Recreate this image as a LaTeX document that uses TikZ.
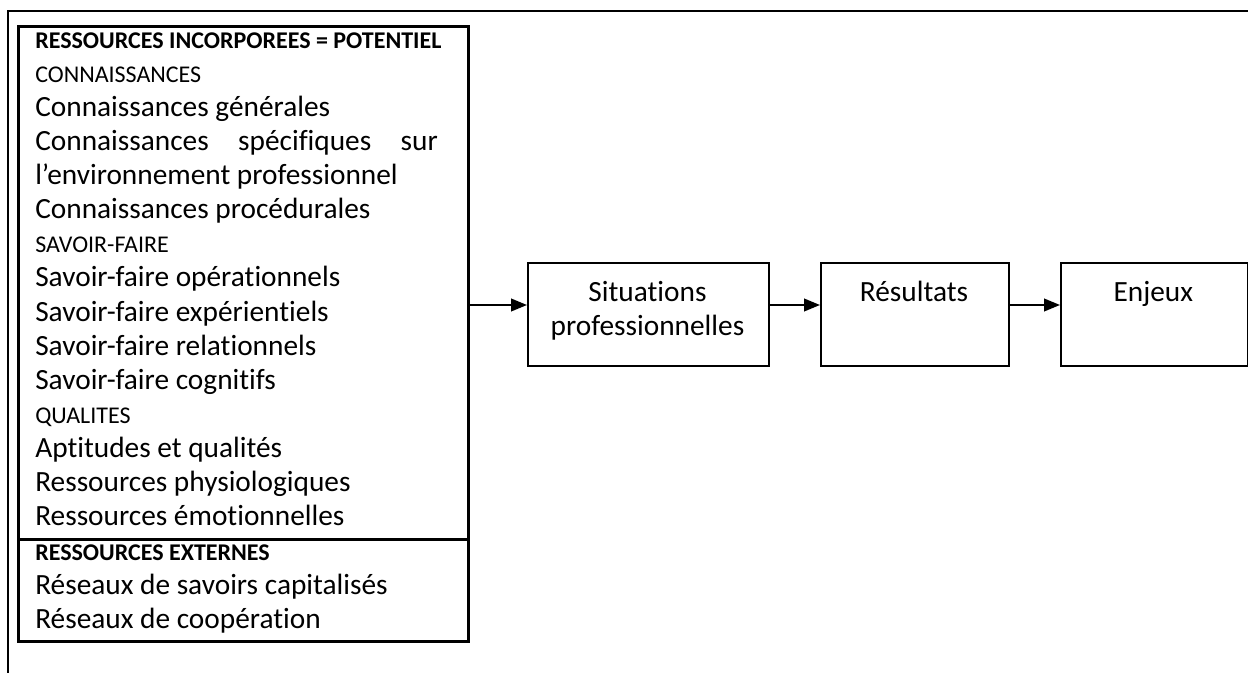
\documentclass[tikz,border=0pt]{standalone}
\usepackage{fontspec}
\setmainfont{Carlito}[Ligatures={NoCommon}]
\usetikzlibrary{arrows.meta}
\usetikzlibrary{positioning}

\newcommand{\grandcorps}{\fontsize{22}{26}\selectfont}
\newcommand{\petitcorps}{\fontsize{18}{22}\selectfont}

\tikzset{
  cadre/.style={draw, line width=1.3pt, inner sep=0pt, anchor=north west},
  titre/.style={anchor=base west, inner sep=0pt, font=\petitcorps\bfseries},
  rubrique/.style={anchor=base west, inner sep=0pt, font=\petitcorps},
  ligne/.style={anchor=base west, inner sep=0pt, font=\grandcorps},
  etiquette/.style={anchor=base, inner sep=0pt, font=\grandcorps},
  fleche/.style={->, line width=1.5pt}
}

\begin{document}
\begin{tikzpicture}[x=0.75pt, y=-0.75pt, >={Triangle[length=12pt, width=9.5pt]}]
  \useasboundingbox (0,0) rectangle (1248,673);
  %--- cadre exterieur
    \draw[line width=1.5pt] (1248,11) -- (8,11) -- (8,673);
  %--- ressources incorporees
    \node[cadre, line width=2pt, minimum width=337.5pt, minimum height=384.75pt] (potentiel) at (17,25) {};
    \foreach \genre/\texte [count=\i from 0] in {
        titre/{RESSOURCES INCORPOREES = POTENTIEL},
        rubrique/CONNAISSANCES,
        ligne/Connaissances générales,
        ligne/{\hbox to 302pt{Connaissances\hfill spécifiques\hfill sur}},
        ligne/l’environnement professionnel,
        ligne/Connaissances procédurales,
        rubrique/SAVOIR-FAIRE,
        ligne/Savoir-faire opérationnels,
        ligne/Savoir-faire expérientiels,
        ligne/Savoir-faire relationnels,
        ligne/Savoir-faire cognitifs,
        rubrique/QUALITES,
        ligne/Aptitudes et qualités,
        ligne/Ressources physiologiques,
        ligne/Ressources émotionnelles}
      \node[\genre] (pot-\i) at (35, {49+34*\i}) {\texte};
  %--- ressources externes
    \node[cadre, line width=2pt, minimum width=337.5pt, minimum height=76.5pt] (externes) at (17,538) {};
    \foreach \genre/\texte [count=\i from 0] in {
        titre/RESSOURCES EXTERNES,
        ligne/Réseaux de savoirs capitalisés,
        ligne/Réseaux de coopération}
      \node[\genre] (ext-\i) at (35, {560+34*\i}) {\texte};
  %--- situations
    \node[cadre, minimum width=180.75pt, minimum height=77.25pt] (situations) at (527,262) {};
    \node[etiquette] (situations-1) at (647.5,301) {Situations};
    \node[etiquette] (situations-2) at (647.5,335) {professionnelles};
  %--- resultats
    \node[cadre, minimum width=141pt, minimum height=77.25pt] (resultats) at (820,262) {};
    \node[etiquette] (resultats-1) at (914,301) {Résultats};
  %--- enjeux
    \node[cadre, minimum width=139.9pt, minimum height=77.25pt] (enjeux) at (1060,262) {};
    \node[etiquette] (enjeux-1) at (1153.3,301) {Enjeux};
  %--- fleches
    \coordinate (niveau) at (0,305);
    \draw[fleche] (potentiel.east |- niveau) -- (situations.west |- niveau);
    \draw[fleche] (situations.east |- niveau) -- (resultats.west |- niveau);
    \draw[fleche] (resultats.east |- niveau) -- (enjeux.west |- niveau);
\end{tikzpicture}
\end{document}
